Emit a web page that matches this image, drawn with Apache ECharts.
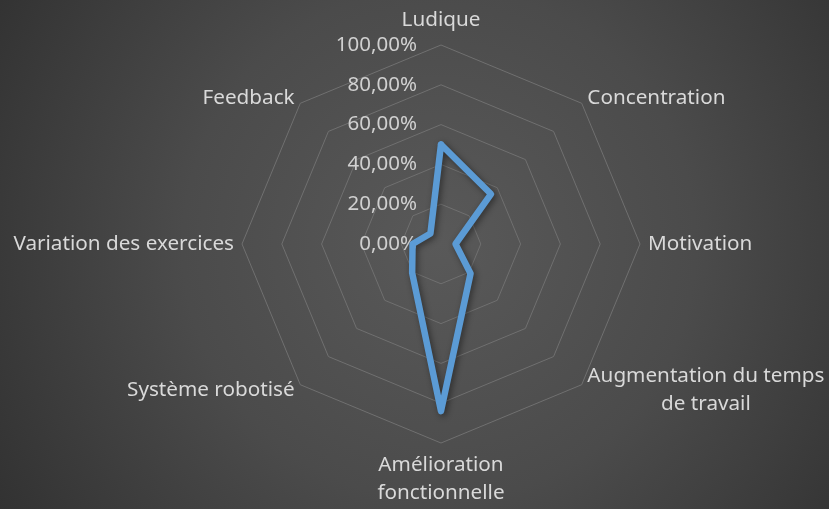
<!DOCTYPE html>
<html>
<head>
<meta charset="utf-8">
<script src="https://cdn.jsdelivr.net/npm/echarts@6/dist/echarts.min.js"></script>
<style>
html,body{margin:0;padding:0;width:829px;height:509px;overflow:hidden;}
#c{width:829px;height:509px;background:radial-gradient(circle farthest-corner at 53% 48%, #595959 0%, #4b4b4b 50%, #323232 100%);}
</style>
</head>
<body>
<div id="c"></div>
<script>
// Categories listed clockwise from the top, as in the reference
const categories = ['Ludique', 'Concentration', 'Motivation', 'Augmentation du temps\nde travail', 'Amélioration\nfonctionnelle', 'Système robotisé', 'Variation des exercices', 'Feedback'];
const values = [0.50, 0.355, 0.073, 0.21, 0.84, 0.205, 0.143, 0.075];
const tickLabels = ['0,00%', '20,00%', '40,00%', '60,00%', '80,00%', '100,00%'];

// ECharts radar runs counter-clockwise; reorder so the picture runs clockwise
const order = categories.map((_, i) => (categories.length - i) % categories.length);

const chart = echarts.init(document.getElementById('c'), null, {renderer: 'canvas'});
const font = '"Noto Sans", "Open Sans", sans-serif';
const indicator = order.map((idx, i) => {
  const o = {name: categories[idx], min: 0, max: 1};
  if (i === 0) {
    o.axisLabel = {
      show: true,
      color: '#d0d0d0',
      fontSize: 20.5,
      fontFamily: font,
      margin: 24,
      formatter: v => tickLabels[Math.round(v * 5)]
    };
  }
  return o;
});
const seriesValues = order.map(idx => values[idx]);

chart.setOption({
  backgroundColor: 'transparent',
  animation: false,
  radar: {
    center: [441, 244],
    radius: 199,
    startAngle: 90,
    splitNumber: 5,
    shape: 'polygon',
    indicator: indicator,
    nameGap: 8,
    axisName: {
      color: '#d9d9d9',
      fontSize: 20.7,
      fontFamily: font,
      lineHeight: 28,
      formatter: n => '{a|' + n + '}',
      rich: {a: {color: '#d9d9d9', fontSize: 20.7, fontFamily: font, lineHeight: 28, align: 'center'}}
    },
    axisLine: {show: false},
    axisTick: {show: false},
    axisLabel: {show: false},
    splitArea: {show: false},
    splitLine: {lineStyle: {color: '#707070', width: 1}}
  },
  series: [{
    type: 'radar',
    symbol: 'none',
    data: [{
      value: seriesValues,
      lineStyle: {
        color: '#5b9bd5', width: 6.5, join: 'round', cap: 'round',
        shadowColor: 'rgba(0,0,0,0.45)', shadowBlur: 6, shadowOffsetX: 2, shadowOffsetY: 2
      }
    }]
  }]
});
</script>
</body>
</html>
